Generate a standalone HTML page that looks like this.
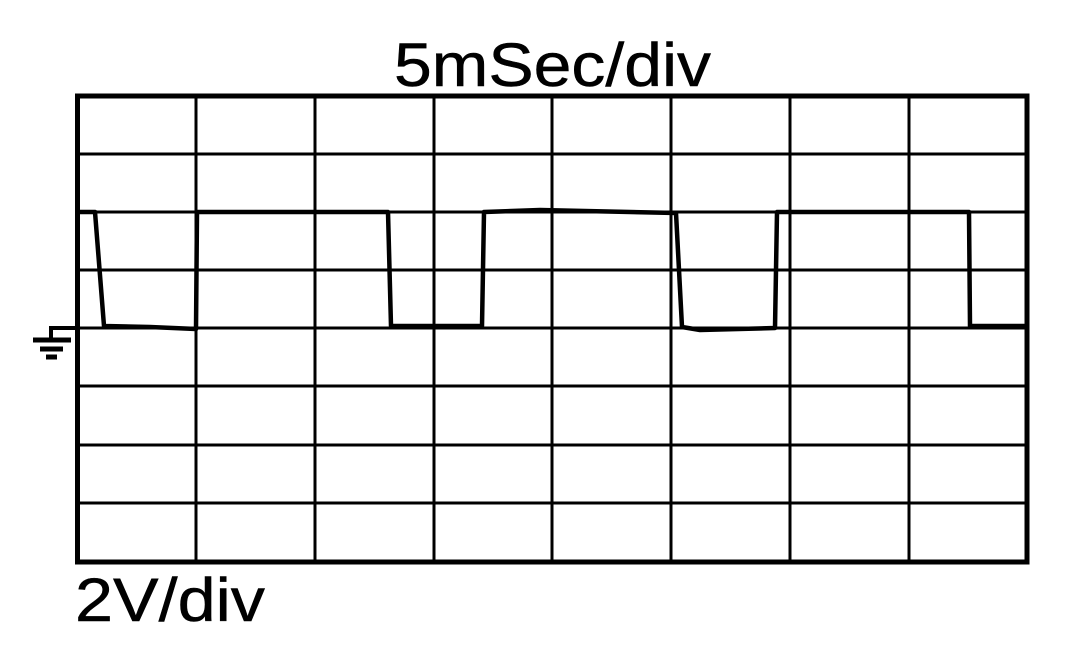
<!DOCTYPE html>
<html><head><style>body{margin:0;background:#fff}svg{display:block}</style></head><body>
<svg width="1087" height="661" xmlns="http://www.w3.org/2000/svg">
<rect width="1087" height="661" fill="#fff"/>
<g stroke="#000" stroke-width="3">
<line x1="196" y1="96" x2="196" y2="562"/><line x1="315" y1="96" x2="315" y2="562"/>
<line x1="434" y1="96" x2="434" y2="562"/><line x1="552" y1="96" x2="552" y2="562"/>
<line x1="671" y1="96" x2="671" y2="562"/><line x1="790" y1="96" x2="790" y2="562"/>
<line x1="909" y1="96" x2="909" y2="562"/>
<line x1="77" y1="154" x2="1027" y2="154"/><line x1="77" y1="212" x2="1027" y2="212"/>
<line x1="77" y1="270" x2="1027" y2="270"/><line x1="77" y1="328" x2="1027" y2="328"/>
<line x1="77" y1="386" x2="1027" y2="386"/><line x1="77" y1="445" x2="1027" y2="445"/>
<line x1="77" y1="503" x2="1027" y2="503"/>
</g>
<rect x="77.5" y="96" width="949.5" height="466" fill="none" stroke="#000" stroke-width="5"/>
<polyline fill="none" stroke="#000" stroke-width="4.5" stroke-linejoin="round" points="77,212 95,212 104,326 150,327 196,329 197,212 290,212 388,212 391,326 482,326 484,212 540,210 676,213 682,327 700,330 775,328 777,212 969,212 970,326 1025,326"/>
<g stroke="#000" fill="none" stroke-width="4">
<polyline points="77,328 51,328 51,340"/>
<line x1="33" y1="340" x2="71" y2="340" stroke-width="5"/>
<line x1="40" y1="349" x2="63" y2="349" stroke-width="5"/>
<line x1="46" y1="357" x2="57" y2="357" stroke-width="5"/>
</g>
<g font-family="Liberation Sans, sans-serif" font-size="61" stroke="#000" stroke-width="0.5">
<text x="394" y="86" textLength="317" lengthAdjust="spacingAndGlyphs">5mSec/div</text>
<text x="75" y="621" textLength="190" lengthAdjust="spacingAndGlyphs">2V/div</text>
</g>
</svg>
</body></html>
